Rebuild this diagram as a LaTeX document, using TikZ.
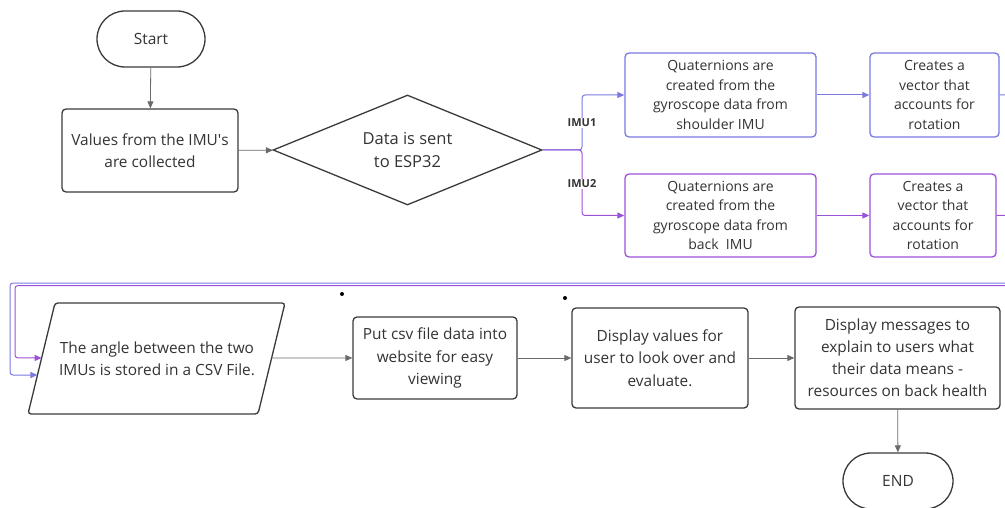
\documentclass[tikz,border=0pt]{standalone}
\usepackage{fontspec}
\setmainfont{Open Sans}
\usetikzlibrary{arrows.meta,shapes.geometric,shapes.misc,calc}
\definecolor{txt}{HTML}{333333}
\definecolor{edgec}{HTML}{3A3A3A}
\definecolor{connc}{HTML}{6A6A6A}
\definecolor{blu}{HTML}{7B78E0}
\definecolor{pur}{HTML}{9B52D8}
\begin{document}
\begin{tikzpicture}[x=1pt,y=-1pt,
  every node/.style={text=txt},
  mainfont/.style={font=\fontsize{15.4}{22.5}\selectfont},
  qfont/.style={font=\fontsize{14}{19.6}\selectfont},
  box/.style={draw=edgec,line width=1.3pt,rounded corners=4pt,align=center,inner sep=0pt,mainfont},
  bbox/.style={box,draw=blu,qfont},
  pbox/.style={box,draw=pur,qfont},
  term/.style={draw=edgec,line width=1.3pt,rounded rectangle,inner sep=0pt,minimum width=108pt,minimum height=56pt,font=\fontsize{15.5}{18}\selectfont},
  tip/.style={-{Triangle[length=7pt,width=6pt]}},
  conn/.style={draw=connc,line width=0.8pt,tip},
  bconn/.style={draw=blu,line width=1pt,tip,rounded corners=3pt},
  pconn/.style={draw=pur,line width=1pt,tip,rounded corners=3pt},
  lbl/.style={font=\fontsize{11}{13}\bfseries,fill=white,inner sep=1pt,text=txt}
]
\useasboundingbox (0,0) rectangle (1005,508);

% terminals and boxes
\node[term] (start) at (151,39) {Start};
\node[box,minimum width=176pt,minimum height=83pt] (vals) at (150,150.5) {Values from the IMU\textquotesingle s\\are collected};
\node[diamond,draw=edgec,line width=1.3pt,minimum width=269pt,minimum height=110pt,shape aspect=2.45,inner sep=0pt,align=center,font=\fontsize{16.5}{22.5}\selectfont] (dec) at (407.5,150) {Data is sent\\to ESP32};

\coordinate (J) at (582,150);
\node[bbox,minimum width=191pt,minimum height=84pt] (q1) at (720.5,95) {Quaternions are\\created from the\\gyroscope data from\\shoulder IMU};
\node[pbox,minimum width=191pt,minimum height=83pt] (q2) at (720.5,215.5) {Quaternions are\\created from the\\gyroscope data from\\back\ \ IMU};
\node[bbox,minimum width=129pt,minimum height=84pt] (v1) at (934.5,95) {Creates a\\vector that\\accounts for\\rotation};
\node[pbox,minimum width=126pt,minimum height=83pt] (v2) at (933,215.5) {Creates a\\vector that\\accounts for\\rotation};

% parallelogram
\coordinate (pTL) at (55,303);
\coordinate (pTR) at (285,303);
\coordinate (pBR) at (258,414);
\coordinate (pBL) at (28,414);
\draw[draw=edgec,line width=1.3pt,rounded corners=3pt] (pTL) -- (pTR) -- (pBR) -- (pBL) -- cycle;
\node[mainfont,align=center] (csv) at (157,359) {The angle between the two\\IMUs is stored in a CSV File.};
\coordinate (csvIn1) at ($(pTL)!0.495!(pBL)$);
\coordinate (csvIn2) at ($(pTL)!0.649!(pBL)$);
\coordinate (csvOut) at ($(pTR)!0.495!(pBR)$);

\node[box,minimum width=164pt,minimum height=82pt] (put) at (435,358) {Put csv file data into\\website for easy\\viewing};
\node[box,minimum width=176pt,minimum height=100pt] (disp) at (660,358) {Display values for\\user to look over and\\evaluate.};
\node[box,minimum width=205pt,minimum height=102pt,font=\fontsize{15.4}{22}\selectfont] (msg) at (897.5,358) {Display messages to\\explain to users what\\their data means -\\resources on back health};
\node[term,minimum width=110pt] (end) at (898,481) {END};

% connectors
\draw[conn] (start) -- (vals);
\draw[conn] (vals) -- (dec);
\draw[bconn] (dec.east) -- (J) |- (q1.west);
\draw[pconn] (dec.east) -- (J) |- (q2.west);
\node[lbl] (l1) at (582,123) {IMU1};
\node[lbl] (l2) at (582,184) {IMU2};
\draw[bconn] (q1) -- (v1);
\draw[pconn] (q2) -- (v2);
\draw[bconn] (v1.east) -- (1016,95) -- (1016,283) -- (10,283) -- (10,375) -- (csvIn2);
\draw[pconn] (v2.east) -- (1012,215.5) -- (1012,285.5) -- (15,285.5) -- (15,358) -- (csvIn1);
\draw[conn] (csvOut) -- (put);
\draw[conn] (put) -- (disp);
\draw[conn] (disp) -- (msg);
\draw[conn] (msg) -- (end);

% stray dots
\fill[black] (342,294) circle (2pt);
\fill[black] (565,298) circle (2pt);
\end{tikzpicture}
\end{document}
